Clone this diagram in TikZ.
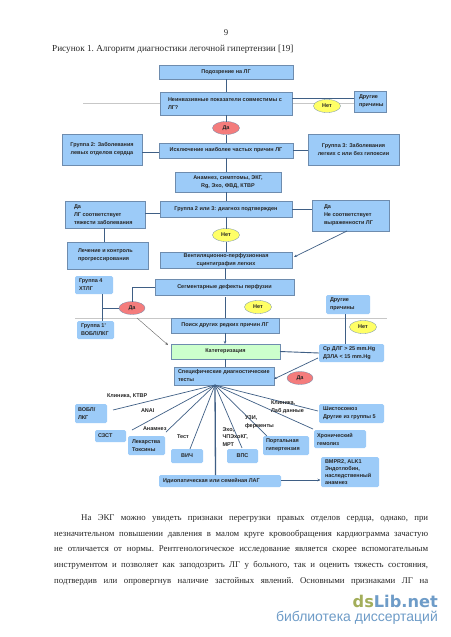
\documentclass[tikz,border=0pt]{standalone}
\usepackage{fontspec}
\setmainfont{Liberation Serif}
\newfontfamily\diagfont{Liberation Sans}
\newfontfamily\wmfont{DejaVu Sans}
\usetikzlibrary{arrows.meta,calc,shapes.geometric}
\definecolor{boxfill}{HTML}{9CCBF8}
\definecolor{boxedge}{HTML}{6E8CAE}
\definecolor{wire}{HTML}{3F5F85}
\definecolor{yes}{HTML}{F47C7C}
\definecolor{no}{HTML}{FFFF66}
\definecolor{catfill}{HTML}{CCFFCC}
\definecolor{dsgreen}{HTML}{A3AE5A}
\definecolor{dsblue}{HTML}{6E9CC8}
\tikzset{
  x=1pt,y=-1pt,
  base/.style={inner sep=0pt,outer sep=0pt,align=left,font=\diagfont\bfseries\fontsize{5.5}{8}\selectfont,text=black!85},
  pbox/.style n args={4}{base,draw=boxedge,line width=.7pt,fill=boxfill,rectangle,
    minimum width=#3-#1,minimum height=#4-#2,anchor=center,at={({(#1+#3)/2},{(#2+#4)/2})}},
  rbox/.style n args={4}{base,fill=boxfill,rectangle,rounded corners=1.5pt,
    minimum width=#3-#1,minimum height=#4-#2,anchor=center,at={({(#1+#3)/2},{(#2+#4)/2})}},
  decide/.style={base,draw=boxedge,line width=.3pt,ellipse,minimum width=27pt,minimum height=13pt,align=center},
  yesnode/.style={decide,fill=yes},
  nonode/.style={decide,fill=no},
  wirel/.style={draw=wire,line width=.9pt},
  wirethin/.style={draw=wire,line width=.7pt},
  arrowl/.style={wirethin,-{Stealth[length=3pt,width=2.5pt]}},
  paleline/.style={draw=black!22,line width=.6pt},
  lab/.style={base,anchor=west,fill=none},
  bodyline/.style={inner sep=0pt,anchor=base west,font=\frenchspacing\fontsize{8.8}{10}\selectfont,text=black!85},
}
\newcommand{\jl}[2]{\makebox[#1pt][s]{#2}}
\begin{document}
\begin{tikzpicture}
\useasboundingbox (0,0) rectangle (450,637);
\fill[white] (0,0) rectangle (450,637);
% page text
\node[bodyline,anchor=center] (pagenum) at (226,33) {9};
\node[bodyline,font=\frenchspacing\fontsize{9.2}{10}\selectfont] (caption) at (52,51) {Рисунок 1. Алгоритм диагностики легочной гипертензии [19]};
% pale rules
\coordinate (paleA) at (83,103);
\coordinate (paleB) at (354,103);
\coordinate (paleC) at (75,318);
\coordinate (paleD) at (387,318);
\draw[paleline] (paleA) -- (paleB);
\draw[paleline] (paleC) -- (paleD);
% boxes
\node[pbox={159}{65}{293}{79}] (susp) {\makebox[134pt][c]{Подозрение на ЛГ}};
\node[pbox={160}{92}{292}{115}] (noninv) {\hspace{6pt}\parbox{122pt}{Неинвазивные показатели совместимы с\\ЛГ?}};
\node[pbox={354}{91}{386}{112}] (other) {\hspace{4pt}\parbox{26pt}{Другие\\причины}};
\node[pbox={62}{134}{142}{165}] (gr2) {\parbox{80pt}{\centering Группа 2: Заболевания\\левых отделов сердца}};
\node[pbox={159}{143}{293}{158}] (excl) {\makebox[134pt][c]{Исключение наиболее частых причин ЛГ}};
\node[pbox={308}{134}{399}{165}] (gr3) {\parbox{91pt}{\centering Группа 3: Заболевания\\легких с или без гипоксии}};
\node[pbox={175}{172}{281}{192}] (hist) {\parbox{106pt}{\centering Анамнез, симптомы, ЭКГ,\\Rg, Эхо, ФВД, КТВР}};
\node[pbox={65}{201}{145}{228}] (yesA) {\hspace{9pt}\parbox{71pt}{Да\\ЛГ соответствует\\тяжести заболевания}};
\node[pbox={160}{201}{292}{217}] (conf) {\makebox[132pt][c]{Группа 2 или 3: диагноз подтвержден}};
\node[pbox={312}{200}{389}{231}] (yesB) {\hspace{12pt}\parbox{65pt}{Да\\Не соответствует\\выраженности ЛГ}};
\node[pbox={67}{242}{148}{269}] (treat) {\hspace{11pt}\parbox{70pt}{Лечение и контроль\\прогрессирования}};
\node[pbox={160}{252}{292}{268}] (scint) {\parbox{132pt}{\centering Вентиляционно-перфузионная\\сцинтиграфия легких}};
\node[rbox={75}{276}{113}{294}] (gr4) {\hspace{4pt}\parbox{34pt}{Группа 4\\ХТЛГ}};
\node[pbox={155}{279}{294}{295}] (seg) {\makebox[139pt][c]{Сегментарные дефекты перфузии}};
\node[rbox={326}{295}{370}{314}] (otherB) {\hspace{4pt}\parbox{40pt}{Другие\\причины}};
\node[rbox={77}{321}{114}{339}] (gr1) {\hspace{4pt}\parbox{33pt}{Группа 1'\\ВОБЛ/ЛКГ}};
\node[pbox={171}{318}{279}{333}] (rare) {\makebox[108pt][c]{Поиск других редких причин ЛГ}};
\node[pbox={171}{344}{280}{359},fill=catfill] (cath) {\makebox[109pt][c]{Катетеризация}};
\node[rbox={319}{344}{384}{362}] (pres) {\hspace{4pt}\parbox{61pt}{Ср ДЛГ > 25 mm.Hg\\ДЗЛА < 15 mm.Hg}};
\node[pbox={174}{367}{274}{385}] (spec) {\hspace{4pt}\parbox{96pt}{Специфические диагностические\\тесты}};
\node[rbox={75}{404}{107}{423}] (vobl) {\hspace{3pt}\parbox{29pt}{ВОБЛ/\\ЛКГ}};
\node[rbox={95}{430}{126}{442}] (szst) {\hspace{3pt}\parbox{28pt}{СЗСТ}};
\node[rbox={128}{436}{165}{455}] (drug) {\hspace{4pt}\parbox{33pt}{Лекарства\\Токсины}};
\node[rbox={171}{449}{203}{463}] (hiv) {\makebox[32pt][c]{ВИЧ}};
\node[rbox={227}{449}{258}{463}] (vps) {\makebox[31pt][c]{ВПС}};
\node[rbox={263}{436}{309}{455}] (port) {\hspace{3pt}\parbox{43pt}{Портальная\\гипертензия}};
\node[rbox={314}{430}{366}{448}] (hem) {\hspace{3pt}\parbox{49pt}{Хронический\\гемолиз}};
\node[rbox={319}{404}{384}{423}] (schi) {\hspace{4pt}\parbox{61pt}{Шистосомоз\\Другие из группы 5}};
\node[rbox={159}{475}{281}{487}] (idio) {\hspace{4pt}\parbox{118pt}{Идиопатическая или семейная ЛАГ}};
\node[rbox={321}{457}{379}{487}] (bmpr) {\hspace{4pt}\parbox{54pt}{\baselineskip=7pt BMPR2, ALK1\\Эндотлобин,\\наследственный\\анамнез}};
% decisions
\node[yesnode] (d1) at (226,128) {Да};
\node[nonode] (n1) at (327,106) {Нет};
\node[nonode] (n2) at (226,235) {Нет};
\node[yesnode,minimum width=26pt] (d2) at (132,308) {Да};
\node[nonode] (n3) at (258,307) {Нет};
\node[nonode] (n4) at (363,327) {Нет};
\node[yesnode,minimum width=26pt] (d3) at (300,378) {Да};
% free ends
\coordinate (presIn) at (345.5,344);
\coordinate (bmprIn) at (320.5,480);
\coordinate (idioOut) at (281,480);
\coordinate (otherBOut) at (345.5,314);
\coordinate (treatIn) at (104,242);
\coordinate (yesAOut) at (104,228);
\coordinate (seg2) at (225,297);
\coordinate (rareIn) at (225,318);
\coordinate (scintOut) at (225,268);
\coordinate (segIn) at (225,279);
\coordinate (rareOut) at (225,333);
\coordinate (cathIn) at (225,344);
\coordinate (cathOut) at (225,359);
\coordinate (specIn) at (225,367);
\coordinate (gr4Out) at (102,294);
\coordinate (gr1In) at (102,321);
\coordinate (gr4Mid) at (102,308);
\coordinate (yesBOut) at (347,231);
\coordinate (scintIn) at (294,257);
\coordinate (d2Out) at (137,318);
\coordinate (cathL) at (168,345);
\coordinate (presOut) at (318,358);
\coordinate (specR) at (274,379);
% central connectors
\draw[wirel] (susp) -- (noninv);
\draw[wirel] (noninv) -- (d1);
\draw[wirel] (d1) -- (excl);
\draw[wirel] (excl.south) -- (excl.south|-hist.north);
\draw[wirel] (conf.north|-hist.south) -- (conf.north);
\draw[wirel] (conf) -- (n2);
\draw[wirel] (n2) -- (scint);
\draw[wirel] (scintOut) -- (segIn);
\draw[wirel] (seg2) -- (rareIn);
\draw[arrowl] (rareOut) -- (cathIn);
\draw[wirel] (cathOut) -- (specIn);
% side connectors
\draw[wirel] ($(noninv.east)+(0,-5.5)$) -- ($(other.west)+(0,-3.5)$);
\draw[wirel] ($(gr2.east)+(0,3)$) -- ($(excl.west)+(0,2)$);
\draw[wirel] (excl.east) -- ($(gr3.west)+(0,1)$);
\draw[wirel] ($(conf.west)+(0,4)$) -- ($(yesA.east)+(0,-1.5)$);
\draw[wirel] (conf.east) -- ($(yesB.west)+(0,-6.5)$);
\draw[wirel] (yesAOut) -- (treatIn);
\draw[arrowl] (yesBOut) -- (scintIn);
\draw[wirel] (seg.west) -- (seg.west-|d2.north) -- (d2.north);
\draw[wirel] (gr4Out) -- (gr1In);
\draw[wirel] (d2.west) -- (gr4Mid);
\draw[draw=black!60,line width=.4pt,-{Stealth[length=3pt,width=2.5pt]}] (d2Out) -- (cathL);
\draw[wirel] (otherBOut) -- (presIn);
\draw[wirel] (cath.east) -- (pres.west);
\draw[arrowl] (presOut) -- (specR);
\draw[arrowl] (idioOut) -- (bmprIn);
% fan
\coordinate (fan) at (215,385);
\coordinate (endvobl) at (113,410);
\coordinate (endszst) at (132,430);
\coordinate (enddrug) at (166,432);
\coordinate (idioIn) at (215.5,475);
\draw[wirethin] (fan) -- (endvobl);
\draw[wirethin] (fan) -- (endszst);
\draw[wirethin] (fan) -- (enddrug);
\draw[wirethin] (fan) -- ($(hiv.north)+(3,0)$);
\draw[wirel,line width=1.3pt] (fan) -- (idioIn);
\draw[wirethin] (fan) -- ($(vps.north)+(-.5,-1)$);
\draw[wirethin] (fan) -- ($(port.north)+(-19,0)$);
\draw[wirethin] (fan) -- ($(hem.north west)+(-1,-1)$);
\draw[wirethin] (fan) -- ($(schi.north west)+(-1,7)$);
% connector labels
\node[lab] (t1) at (107,396) {Клиника, КТВР};
\node[lab] (t2) at (141,411) {ANAI};
\node[lab] (t3) at (143,429) {Анамнез};
\node[lab] (t4) at (177,437) {Тест};
\node[lab] (t5) at (222.5,437) {\parbox{30pt}{\baselineskip=7.5pt Эхо,\\ЧПЭхоКГ,\\МРТ}};
\node[lab] (t6) at (245,422) {\parbox{32pt}{\baselineskip=8pt УЗИ,\\ферменты}};
\node[lab] (t7) at (271,407) {\parbox{40pt}{\baselineskip=8pt Клиника,\\Лаб данные}};
% body text
\node[bodyline] (b1) at (81,520) {\jl{347}{На ЭКГ можно увидеть признаки перегрузки правых отделов сердца, однако, при}};
\node[bodyline] (b2) at (54,536) {\jl{374}{незначительном повышении давления в малом круге кровообращения кардиограмма зачастую}};
\node[bodyline] (b3) at (54,551) {\jl{374}{не отличается от нормы. Рентгенологическое исследование является скорее вспомогательным}};
\node[bodyline] (b4) at (54,567) {\jl{374}{инструментом и позволяет как заподозрить ЛГ у больного, так и оценить тяжесть состояния,}};
\node[bodyline] (b5) at (54,583) {\jl{374}{подтвердив или опровергнув наличие застойных явлений. Основными признаками ЛГ на}};
% watermark
\node[inner sep=0pt,anchor=base east,font=\wmfont\bfseries\fontsize{16.2}{20}\selectfont] (wm) at (438,607) {\textcolor{dsgreen}{ds}\textcolor{dsblue}{Lib.net}};
\node[inner sep=0pt,anchor=base east,text=dsblue,font=\diagfont\fontsize{14}{16}\selectfont] (wmb) at (438,621) {библиотека диссертаций};
\end{tikzpicture}
\end{document}
